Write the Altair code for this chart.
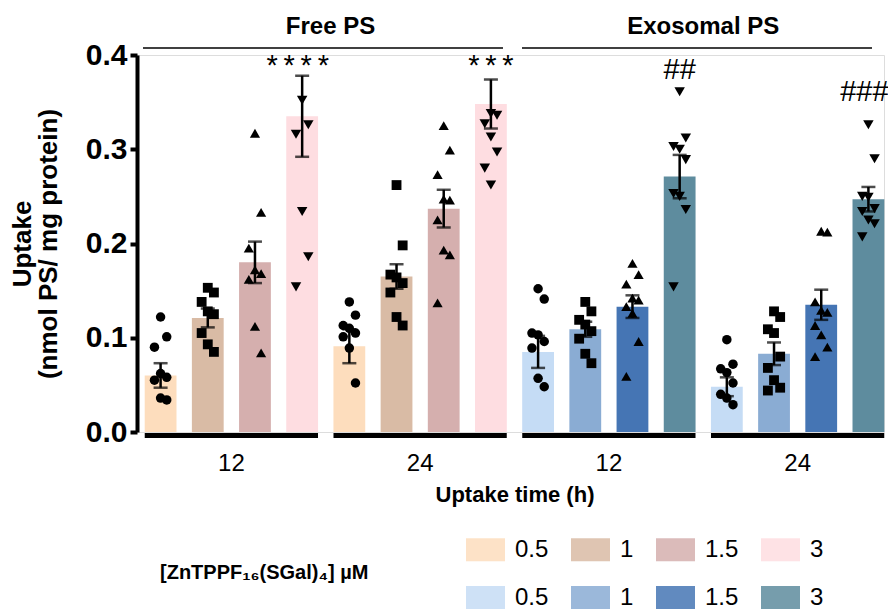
import altair as alt
import pandas as pd

FONT = "Liberation Sans"

groups = ["Free 12", "Free 24", "Exo 12", "Exo 24"]
doses = ["0.5", "1", "1.5", "3"]
color_keys = ["F0.5", "F1", "F1.5", "F3", "E0.5", "E1", "E1.5", "E3"]
bar_colors = ["#FDDDBD", "#D9BBA5", "#D5AFAE", "#FEDDE1",
              "#C5DCF5", "#8AACD3", "#4575B4", "#5E8C9E"]
point_shapes = ["circle", "square", "triangle-up", "triangle-down"]
point_sizes = [90, 110, 120, 120]

mean_free12 = [0.060, 0.121, 0.180, 0.335]
mean_free24 = [0.091, 0.165, 0.237, 0.348]
mean_exo12 = [0.085, 0.109, 0.133, 0.271]
mean_exo24 = [0.048, 0.083, 0.135, 0.247]

sem_free12 = [0.013, 0.010, 0.022, 0.043]
sem_free24 = [0.018, 0.013, 0.020, 0.026]
sem_exo12 = [0.017, 0.008, 0.012, 0.023]
sem_exo24 = [0.010, 0.012, 0.016, 0.013]

pts_free12 = [
    [0.122, 0.101, 0.090, 0.062, 0.058, 0.055, 0.036, 0.034],
    [0.153, 0.148, 0.138, 0.128, 0.125, 0.105, 0.093, 0.085],
    [0.317, 0.233, 0.195, 0.172, 0.168, 0.162, 0.112, 0.084],
    [0.352, 0.326, 0.316, 0.234, 0.186, 0.154],
]
pts_free24 = [
    [0.138, 0.124, 0.113, 0.110, 0.105, 0.101, 0.089, 0.052],
    [0.262, 0.198, 0.167, 0.164, 0.158, 0.148, 0.122, 0.113],
    [0.325, 0.299, 0.273, 0.247, 0.246, 0.225, 0.193, 0.188, 0.137],
    [0.338, 0.336, 0.327, 0.313, 0.297, 0.280, 0.262],
]
pts_exo12 = [
    [0.152, 0.141, 0.105, 0.103, 0.096, 0.089, 0.057, 0.048],
    [0.138, 0.128, 0.119, 0.114, 0.107, 0.099, 0.083, 0.073],
    [0.179, 0.167, 0.157, 0.142, 0.140, 0.133, 0.126, 0.096, 0.059],
    [0.361, 0.312, 0.303, 0.300, 0.289, 0.253, 0.250, 0.236, 0.154],
]
pts_exo24 = [
    [0.098, 0.072, 0.067, 0.063, 0.052, 0.040, 0.036, 0.029],
    [0.128, 0.122, 0.109, 0.105, 0.080, 0.068, 0.055, 0.047, 0.044],
    [0.213, 0.212, 0.138, 0.129, 0.127, 0.113, 0.103, 0.090, 0.080],
    [0.326, 0.290, 0.250, 0.249, 0.237, 0.234, 0.225, 0.221, 0.207],
]

sig_texts = ["*\u2009*\u2009*\u2009*", "*\u2009*\u2009*", "##", "###"]
sig_groups = ["Free 12", "Free 24", "Exo 12", "Exo 24"]
sig_off = [2.905, 3.0, 3.0, 2.915]
sig_y = [0.379, 0.379, 0.375, 0.351]

header_texts = ["Free PS", "Exosomal PS"]
header_groups = ["Free 24", "Exo 24"]
header_off = [-0.40, -0.5]
header_text_y = 0.4297
header_line_y = 0.4074
header_line_start = [("Free 12", -0.373), ("Exo 12", -0.341)]
header_line_end = [("Free 24", 3.256), ("Exo 24", 3.076)]
base_line_y = -0.0037

legend_title = "[ZnTPPF\u2081\u2086(SGal)\u2084] \u00b5M"

means = dict(zip(groups, [mean_free12, mean_free24, mean_exo12, mean_exo24]))
sems = dict(zip(groups, [sem_free12, sem_free24, sem_exo12, sem_exo24]))
pts = dict(zip(groups, [pts_free12, pts_free24, pts_exo12, pts_exo24]))

bar_rows, pt_rows = [], []
for g in groups:
    for i, d in enumerate(doses):
        m, s = means[g][i], sems[g][i]
        bar_rows.append(dict(group=g, dose=d, di=i, mean=m, lo=m - s, hi=m + s,
                             key=g[0] + d))
        for v in pts[g][i]:
            pt_rows.append(dict(group=g, dose=d, di=i, value=v))
bars_df = pd.DataFrame(bar_rows)
pts_df = pd.DataFrame(pt_rows)

sig_df = pd.DataFrame(dict(text=sig_texts, group=sig_groups, off=sig_off, y=sig_y))
head_df = pd.DataFrame(dict(text=header_texts, group=header_groups, off=header_off,
                            y=[header_text_y] * 2))
hl_rows = []
for k, (st, en) in enumerate(zip(header_line_start, header_line_end)):
    hl_rows.append(dict(id=k, group=st[0], off=st[1], y=header_line_y))
    hl_rows.append(dict(id=k, group=en[0], off=en[1], y=header_line_y))
hl_df = pd.DataFrame(hl_rows)
bl_rows = []
for g in groups:
    bl_rows.append(dict(id=g, group=g, off=-0.336, y=base_line_y))
    bl_rows.append(dict(id=g, group=g, off=3.336, y=base_line_y))
bl_df = pd.DataFrame(bl_rows)

x_enc = alt.X(
    "group:N",
    scale=alt.Scale(domain=groups, range=[0, 755], paddingInner=0, paddingOuter=0),
    axis=alt.Axis(labelExpr="split(datum.label, ' ')[1]", ticks=False, domain=False,
                  labelAngle=0, labelFont=FONT, labelFontSize=24, labelColor="black",
                  labelPadding=19, titleFont=FONT, titleFontSize=22,
                  titleFontWeight="bold", titleColor="black", titlePadding=9),
    title="Uptake time (h)",
)
off_scale = alt.Scale(domain=[-0.5, 3.5], nice=False, zero=False)
y_scale = alt.Scale(domain=[0, 0.4], nice=False)
y_axis = alt.Axis(values=[0, 0.1, 0.2, 0.3, 0.4], format=".1f", grid=False,
                  labelFont=FONT, labelFontSize=30, labelFontWeight="bold",
                  labelColor="black", labelPadding=3, domainColor="black",
                  domainWidth=4, tickColor="black", tickWidth=4, tickSize=7,
                  titleFont=FONT, titleFontSize=26, titleFontWeight="bold",
                  titleColor="black", titleLineHeight=26, titlePadding=24)
y_title = ["Uptake", "(nmol PS/ mg protein)"]


def Y(field):
    return alt.Y(field + ":Q", scale=y_scale, axis=y_axis, title=y_title)


def XO(field):
    return alt.XOffset(field + ":Q", scale=off_scale)


bars = alt.Chart(bars_df).mark_bar(width=31.8).encode(
    x=x_enc, xOffset=XO("di"), y=Y("mean"),
    color=alt.Color("key:N", scale=alt.Scale(domain=color_keys, range=bar_colors),
                    legend=alt.Legend(orient="none", legendX=329, legendY=475,
                                      columns=4, direction="horizontal", title=None,
                                      labelExpr="substring(datum.label, 1)",
                                      symbolType="M-1,-0.59H1V0.59H-1Z",
                                      symbolSize=1521, symbolStrokeWidth=0,
                                      symbolOpacity=0.85, labelFont=FONT,
                                      labelFontSize=24, labelColor="black",
                                      labelOffset=10, columnPadding=22,
                                      rowPadding=16, padding=0)),
)

err = alt.Chart(bars_df).mark_rule(color="black", strokeWidth=2.5).encode(
    x=x_enc, xOffset=XO("di"), y=Y("lo"), y2="hi:Q")
cap_lo = alt.Chart(bars_df).mark_tick(color="black", size=14, thickness=2.5).encode(
    x=x_enc, xOffset=XO("di"), y=Y("lo"))
cap_hi = alt.Chart(bars_df).mark_tick(color="black", size=14, thickness=2.5).encode(
    x=x_enc, xOffset=XO("di"), y=Y("hi"))

points = alt.Chart(pts_df).transform_window(
    rank="row_number()", sort=[alt.SortField("value", order="descending")],
    groupby=["group", "dose"],
).transform_calculate(
    jx="datum.di + ((datum.rank % 3) - 1) * 0.13"
).mark_point(filled=True, opacity=1, color="black").encode(
    x=x_enc, xOffset=XO("jx"), y=Y("value"),
    shape=alt.Shape("dose:N", scale=alt.Scale(domain=doses, range=point_shapes),
                    legend=None),
    size=alt.Size("dose:N", scale=alt.Scale(domain=doses, range=point_sizes),
                  legend=None),
)

sig = alt.Chart(sig_df).mark_text(font=FONT, fontSize=29, color="black",
                                  baseline="alphabetic").encode(
    x=x_enc, xOffset=XO("off"), y=Y("y"), text="text:N")

heads = alt.Chart(head_df).mark_text(font=FONT, fontSize=24, fontWeight="bold",
                                     color="black", baseline="middle").encode(
    x=x_enc, xOffset=XO("off"), y=Y("y"), text="text:N")

head_lines = alt.Chart(hl_df).mark_line(color="black", strokeWidth=1.6).encode(
    x=x_enc, xOffset=XO("off"), y=Y("y"), detail="id:N", order="off:Q")

base_lines = alt.Chart(bl_df).mark_line(color="black", strokeWidth=5,
                                        strokeCap="butt").encode(
    x=x_enc, xOffset=XO("off"), y=Y("y"), detail="id:N", order="off:Q")

leg_title = alt.Chart(pd.DataFrame(dict(t=[legend_title]))).mark_text(
    font=FONT, fontSize=20, fontWeight="bold", color="black", align="left",
    baseline="middle").encode(x=alt.value(23), y=alt.value(518), text="t:N")

chart = alt.layer(
    bars, err, cap_lo, cap_hi, points, sig, heads, head_lines, base_lines, leg_title
).properties(
    width=747, height=377,
    autosize=alt.AutoSizeParams(type="none"),
    padding={"left": 129, "top": 47, "right": 4, "bottom": 177},
).configure_view(stroke=None).configure(font=FONT)

chart.save("out.html", embed_options={"renderer": "svg", "actions": False})
